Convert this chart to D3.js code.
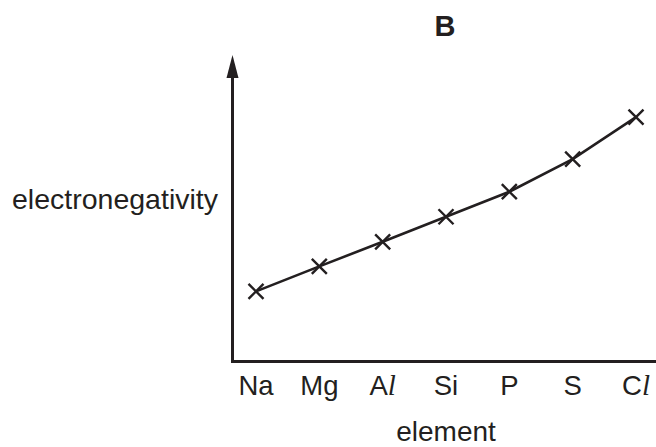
<!DOCTYPE html>
<html><head><meta charset="utf-8">
<script src="https://cdn.jsdelivr.net/npm/d3@7"></script>
<style>html,body{margin:0;padding:0;background:#fff;}svg{display:block;}</style>
</head><body>
<svg id="chart" width="656" height="447"></svg>
<script>
// Data (arbitrary electronegativity units)
const elements = ["Na", "Mg", "Al", "Si", "P", "S", "Cl"];
const elementLabels = [["Na", ""], ["Mg", ""], ["A", "l"], ["Si", ""], ["P", ""], ["S", ""], ["C", "l"]];
const electronegativity = [70, 95, 119.5, 144.5, 169.5, 202, 244];
const chartTitle = "B";
const xTitle = "element";
const yTitle = "electronegativity";

const ink = "#231f20";
const svg = d3.select("#chart");
const x0 = 232.5, y0 = 361.5, xEnd = 656, yTop = 55;

const x = d3.scalePoint().domain(elements).range([256, 636]);
const y = d3.scaleLinear().domain([0, 306]).range([y0, yTop]);

// axes
svg.append("line").attr("x1", x0).attr("x2", xEnd).attr("y1", y0).attr("y2", y0)
  .attr("stroke", ink).attr("stroke-width", 3);
svg.append("line").attr("x1", x0).attr("x2", x0).attr("y1", y0 + 1.5).attr("y2", 76)
  .attr("stroke", ink).attr("stroke-width", 3);
svg.append("path").attr("d", `M${x0},${yTop} L${x0 - 6},${78} L${x0 + 6},${78} Z`).attr("fill", ink);

// tick labels
const tl = svg.append("g").attr("font-family", "Liberation Sans, Arial, sans-serif")
  .attr("font-size", 27.5).attr("fill", ink);
elementLabels.forEach((lab, i) => {
  const t = tl.append("text").attr("x", x(elements[i])).attr("y", 395).attr("text-anchor", "middle");
  t.append("tspan").text(lab[0]);
  if (lab[1]) t.append("tspan").attr("font-family", "Liberation Serif, serif").attr("font-style", "italic").attr("font-size", 29).text(lab[1]);
});

// line
const data = elements.map((e, i) => ({ e, v: electronegativity[i] }));
svg.append("path").datum(data)
  .attr("d", d3.line().x(d => x(d.e)).y(d => y(d.v)))
  .attr("fill", "none").attr("stroke", ink).attr("stroke-width", 2.6);

// cross markers
const s = 7.5;
svg.append("g").selectAll("path").data(data).join("path")
  .attr("d", d => { const cx = x(d.e), cy = y(d.v); return `M${cx - s},${cy - s}L${cx + s},${cy + s}M${cx - s},${cy + s}L${cx + s},${cy - s}`; })
  .attr("stroke", ink).attr("stroke-width", 2.4).attr("fill", "none");

// titles
svg.append("text").attr("x", 445).attr("y", 36).attr("text-anchor", "middle")
  .attr("font-family", "Liberation Sans, Arial, sans-serif").attr("font-weight", "bold")
  .attr("font-size", 29).attr("fill", ink).text(chartTitle);
svg.append("text").attr("x", 115).attr("y", 209).attr("text-anchor", "middle")
  .attr("font-family", "Liberation Sans, Arial, sans-serif").attr("font-size", 28.5)
  .attr("fill", ink).text(yTitle);
svg.append("text").attr("x", 446).attr("y", 441).attr("text-anchor", "middle")
  .attr("font-family", "Liberation Sans, Arial, sans-serif").attr("font-size", 28)
  .attr("fill", ink).text(xTitle);
</script>
</body></html>
